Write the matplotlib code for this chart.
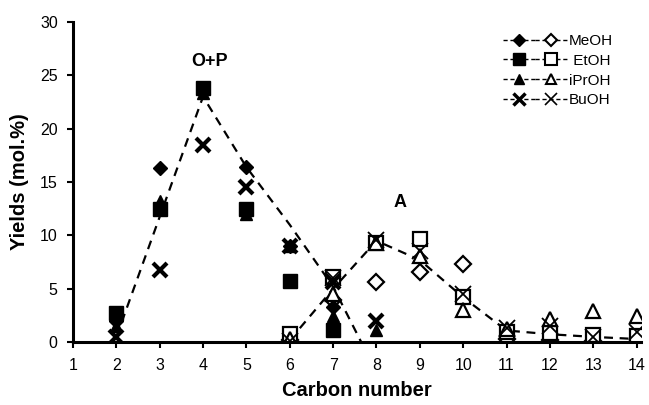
import numpy as np
import matplotlib
matplotlib.use("Agg")
import matplotlib.pyplot as plt
from matplotlib.lines import Line2D
from matplotlib.legend_handler import HandlerTuple

plt.rcParams['font.family'] = ['Liberation Sans', 'DejaVu Sans']

# olefins + paraffins (filled markers), C2-C8
op_carbon = [2, 3, 4, 5, 6, 7]
op_meoh = [2.0, 16.3, 23.5, 16.4, 9.0, 3.3]
op_etoh = [2.7, 12.5, 23.8, 12.5, 5.7, 1.1]
op_iproh_c = [2, 3, 4, 5, 6, 7, 8]
op_iproh = [1.5, 13.2, 23.3, 12.0, 9.0, 2.5, 1.1]
op_buoh_c = [2, 3, 4, 5, 6, 7, 8]
op_buoh = [0.5, 6.8, 18.5, 14.5, 9.0, 5.6, 2.0]

# aromatics (open markers), C6-C14
ar_carbon = [6, 7, 8, 9, 10, 11, 12, 13, 14]
ar_meoh = [0.2, 4.0, 5.6, 6.6, 7.3, 0.3, 0.2, 0.1, 0.0]
ar_etoh = [0.8, 6.1, 9.3, 9.7, 4.2, 1.0, 0.9, 0.7, 0.6]
ar_iproh = [0.3, 4.5, 9.3, 8.1, 3.0, 1.2, 2.2, 2.9, 2.5]
ar_buoh = [0.1, 6.0, 9.6, 8.5, 4.5, 1.3, 1.5, 0.5, 1.0]

# hand-drawn trend lines
op_trend_x = [2, 4, 5, 6, 7, 7.65]
op_trend_y = [0.5, 23.0, 16.4, 11.0, 5.2, 0.0]
ar_trend_x = [6, 7, 8, 9, 10, 11, 12, 13, 14]
ar_trend_y = [0.2, 5.0, 9.5, 7.7, 4.2, 1.1, 0.75, 0.5, 0.3]

fig = plt.figure(figsize=(6.49, 4.05), dpi=100)
ax = fig.add_axes([0.1125, 0.155, 0.875, 0.791])

ax.plot(op_trend_x, op_trend_y, ls=(0, (4, 3)), color='black', lw=1.6, zorder=1)
ax.plot(ar_trend_x, ar_trend_y, ls=(0, (4, 3)), color='black', lw=1.6, zorder=1)

ms_kw = dict(ls='none', color='black', zorder=3)
ax.plot(op_carbon, op_meoh, marker='D', ms=7, **ms_kw)
ax.plot(op_carbon, op_etoh, marker='s', ms=10.5, **ms_kw)
ax.plot(op_iproh_c, op_iproh, marker='^', ms=9, **ms_kw)
ax.plot(op_buoh_c, op_buoh, marker='x', ms=10, mew=3, **ms_kw)

open_kw = dict(ls='none', color='black', mfc='white', mew=1.6, zorder=2)
ax.plot(ar_carbon, ar_meoh, marker='D', ms=8, **open_kw)
ax.plot(ar_carbon, ar_etoh, marker='s', ms=10.5, **open_kw)
ax.plot(ar_carbon, ar_iproh, marker='^', ms=10, **open_kw)
ax.plot(ar_carbon, ar_buoh, marker='x', ms=12, mew=1.3, ls='none', color='black', zorder=4)

ax.text(4.15, 26.3, 'O+P', ha='center', va='center', fontsize=13, fontweight='bold')
ax.text(8.55, 13.1, 'A', ha='center', va='center', fontsize=13, fontweight='bold')

ax.set_xlim(1, 14.1)
ax.set_ylim(0, 30)
ax.set_xticks(np.arange(1, 15))
ax.set_yticks(np.arange(0, 31, 5))
ax.set_xlabel('Carbon number', fontsize=14.5, fontweight='bold', labelpad=6)
ax.set_ylabel('Yields (mol.%)', fontsize=14.5, fontweight='bold', labelpad=8)
for s in ['top', 'right']:
    ax.spines[s].set_visible(False)
for s in ['left', 'bottom']:
    ax.spines[s].set_linewidth(2.2)
ax.tick_params(direction='out', width=1.5, length=4, pad=7, labelsize=11.5)

# legend: filled and open marker pairs
def pair(m, ms, mew_f=1.0, mew_o=1.5):
    kw = dict(color='black', ls=(0, (3, 2)), lw=1.0)
    a = Line2D([], [], marker=m, ms=ms, mew=mew_f, **kw)
    b = Line2D([], [], marker=m, ms=ms, mfc='white' if m != 'x' else 'black', mew=mew_o, **kw)
    return (a, b)

handles = [pair('D', 6), pair('s', 8), pair('^', 7), pair('x', 8, mew_f=2.5, mew_o=1.2)]
labels = ['MeOH', ' EtOH', 'iPrOH', 'BuOH']
fig.legend(handles, labels, handler_map={tuple: HandlerTuple(ndivide=None, pad=0)},
           loc='upper right', bbox_to_anchor=(613 / 649, 1 - 34 / 405), frameon=False,
           fontsize=11, borderpad=0, borderaxespad=0,
           handlelength=4.2, handletextpad=0.1, labelspacing=0.38)

fig.savefig('out.png', dpi=100)
